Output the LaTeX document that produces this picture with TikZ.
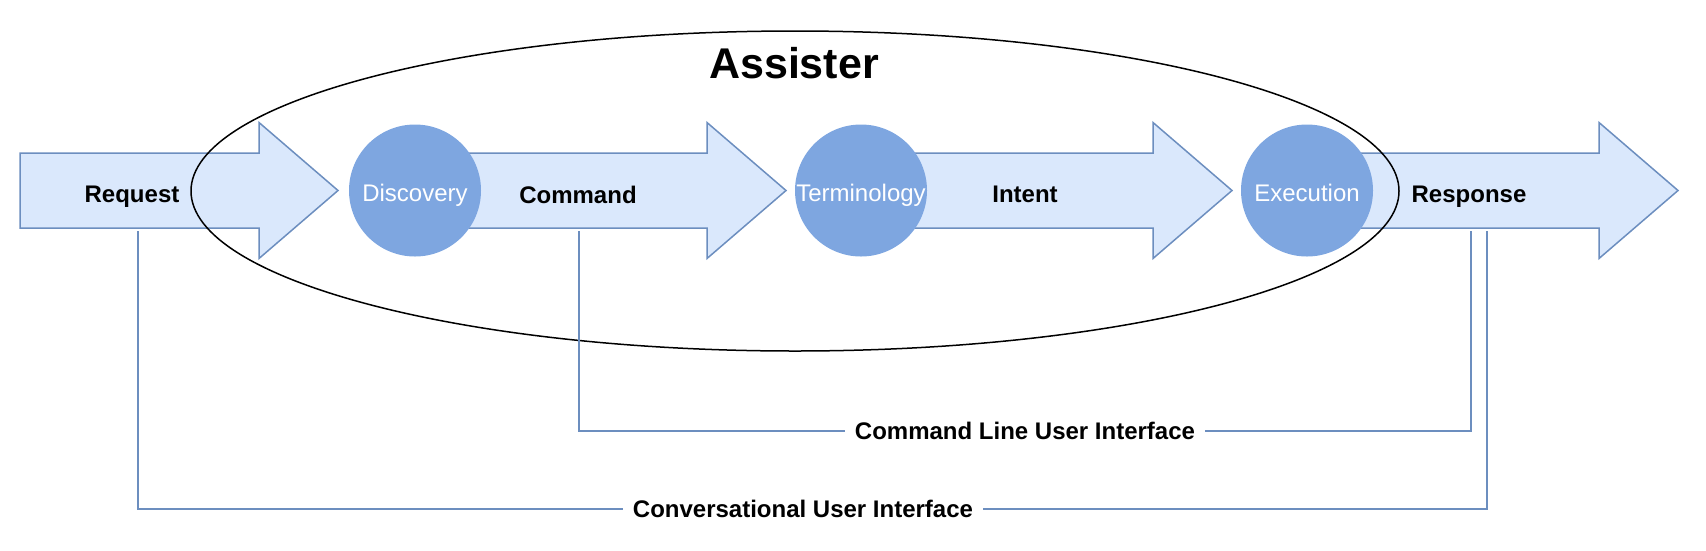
\documentclass[tikz,border=0pt]{standalone}
\usepackage{fontspec}
\setmainfont{Liberation Sans}
\usetikzlibrary{shapes.geometric}
\definecolor{afill}{HTML}{DAE8FC}
\definecolor{astroke}{HTML}{6C8EBF}
\definecolor{cfill}{HTML}{7EA6E0}
\tikzset{
  flowarrow/.style={fill=afill, draw=astroke, line width=1.5pt, line join=miter},
  stage/.style={circle, fill=cfill, minimum size=132pt, inner sep=0pt, text=white,
    font=\fontsize{24}{28}\selectfont, text height=21.5pt, text depth=0pt},
  flowlabel/.style={font=\bfseries\fontsize{24}{28}\selectfont, inner sep=0pt, text depth=0pt},
  uilabel/.style={font=\bfseries\fontsize{24}{28}\selectfont, inner xsep=10pt, inner ysep=2pt},
  bracket/.style={draw=astroke, line width=1.5pt},
  scopering/.style={ellipse, draw=black, line width=1.5pt, minimum width=1208pt, minimum height=320pt, inner sep=0pt, outer sep=0pt}
}
\begin{document}
\begin{tikzpicture}[x=1pt,y=-1pt]
\path[use as bounding box] (0,0) rectangle (1706,550);

% arrows
\draw[flowarrow] (20,153) -- (259,153) -- (259,122.5) -- (338,190.5) -- (259,258.5) -- (259,228) -- (20,228) -- cycle;
\draw[flowarrow] (415,153) -- (707,153) -- (707,122.5) -- (786,190.5) -- (707,258.5) -- (707,228) -- (415,228) -- cycle;
\draw[flowarrow] (861,153) -- (1153,153) -- (1153,122.5) -- (1232,190.5) -- (1153,258.5) -- (1153,228) -- (861,228) -- cycle;
\draw[flowarrow] (1307,153) -- (1599,153) -- (1599,122.5) -- (1678,190.5) -- (1599,258.5) -- (1599,228) -- (1307,228) -- cycle;

% ellipse and title
\node[scopering] (ring) at (795,191) {};
\node[font=\bfseries\fontsize{43}{48}\selectfont, inner sep=0pt] (title) at (794,63) {Assister};

% stages
\node[stage] (disc) at (415,190.5) {Discovery};
\node[stage] (term) at (861,190.5) {Terminology};
\node[stage] (exec) at (1307,190.5) {Execution};

% arrow labels
\node[flowlabel] (req) at (132,194.5) {Request};
\node[flowlabel] (cmd) at (578,194.5) {Command};
\node[flowlabel] (int) at (1025,194.5) {Intent};
\node[flowlabel] (res) at (1469,194.5) {Response};

% connector end points
\coordinate (reqfoot) at (138,231);
\coordinate (cmdfoot) at (579,231);
\coordinate (resfootA) at (1471,231);
\coordinate (resfootB) at (1487,231);

% interface labels
\node[uilabel] (cli) at (1025,431) {Command Line User Interface};
\node[uilabel] (cui) at (803,509) {Conversational User Interface};

\draw[bracket] (cmdfoot) |- (cli.west);
\draw[bracket] (cli.east) -| (resfootA);
\draw[bracket] (reqfoot) |- (cui.west);
\draw[bracket] (cui.east) -| (resfootB);
\end{tikzpicture}
\end{document}
